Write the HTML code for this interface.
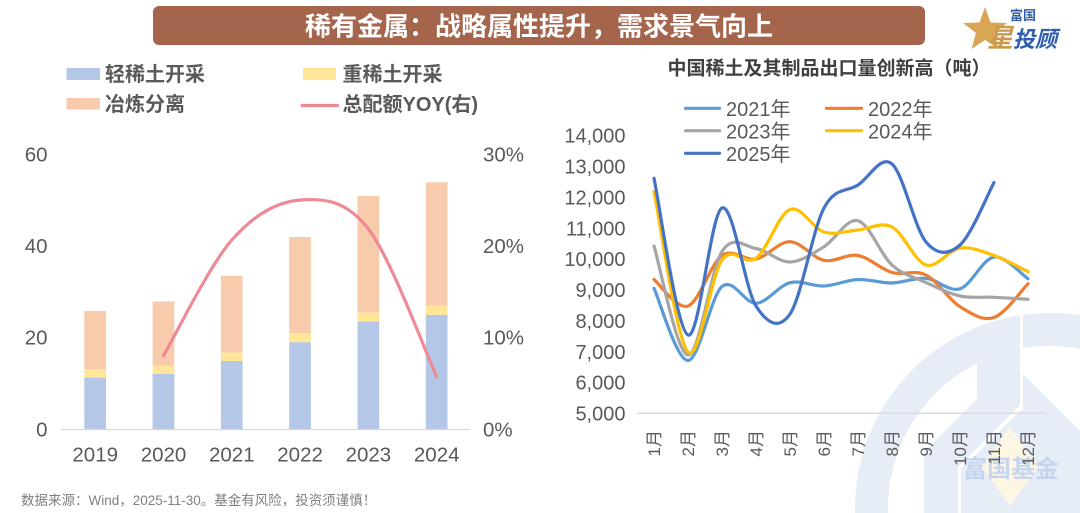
<!DOCTYPE html>
<html><head><meta charset="utf-8">
<style>
html,body{margin:0;padding:0;background:#fff;}
body{width:1080px;height:513px;overflow:hidden;}
svg{display:block;}
</style></head>
<body>
<svg width="1080" height="513" viewBox="0 0 1080 513" xmlns="http://www.w3.org/2000/svg" font-family="'Liberation Sans','Noto Sans CJK SC',sans-serif">
<!-- watermark -->
<g>
  <path d="M855.1,513 A195,195 0 0 1 1080,315.3 L1080,348.8 A162,162 0 0 0 888.1,513 Z" fill="#E6EDF7"/>
  <polygon points="977,335 1020,335 1020,405 958,467 958,513 924,513 924,452 977,399" fill="#E6EDF7"/>
  <polygon points="1023,374 1080,431 1080,513 961,513 961,469 1023,408" fill="#E6EDF7"/>
  <rect x="1020" y="300" width="3" height="110" fill="#FFFFFF"/>
  <polygon points="1010,427 1038,467 1010,506 982,467" fill="#FDF6E3"/>
  <text x="1011" y="477" text-anchor="middle" font-size="24" font-weight="bold" fill="#C6D5EE">富国基金</text>
</g>

<!-- title bar -->
<rect x="153" y="6" width="772" height="39" rx="6" fill="#A5644C"/>
<text x="539" y="35.5" text-anchor="middle" font-size="26" font-weight="bold" fill="#FFFFFF">稀有金属：战略属性提升，需求景气向上</text>

<!-- logo -->
<polygon points="985,7 990.5,22.5 1007,23 994,33 998.5,49 985,40 971.5,49 976,33 963,23 979.5,22.5" fill="#D8A654"/>
<text x="1010" y="20" font-size="13" font-weight="bold" fill="#2F5DA8">富国</text>
<text x="987" y="47" font-size="26" font-weight="bold" fill="#C99A4C" font-style="italic">星</text>
<text x="1013" y="47" font-size="22" font-weight="bold" fill="#2D5FB0" font-style="italic">投顾</text>

<!-- left legend -->
<rect x="66.5" y="68" width="33.5" height="12" fill="#B4C7E7"/>
<text x="105" y="81.2" font-size="20" font-weight="bold" fill="#595959">轻稀土开采</text>
<rect x="303" y="68" width="33" height="12" fill="#FFE699"/>
<text x="342.5" y="81.2" font-size="20" font-weight="bold" fill="#595959">重稀土开采</text>
<rect x="66.5" y="98" width="33.5" height="11.5" fill="#F8CBAD"/>
<text x="105" y="111" font-size="20" font-weight="bold" fill="#595959">冶炼分离</text>
<line x1="302" y1="105.5" x2="337.5" y2="105.5" stroke="#EE8A94" stroke-width="3.2" stroke-linecap="round"/>
<text x="342.5" y="111" font-size="20" font-weight="bold" fill="#595959">总配额YOY(右)</text>

<!-- left chart axes labels -->
<g font-size="20.5" fill="#595959" text-anchor="end">
  <text x="47.5" y="161.4">60</text>
  <text x="47.5" y="253">40</text>
  <text x="47.5" y="344.4">20</text>
  <text x="47.5" y="436.5">0</text>
</g>
<g font-size="20.5" fill="#595959" text-anchor="start">
  <text x="483" y="161.4">30%</text>
  <text x="483" y="253">20%</text>
  <text x="483" y="344.4">10%</text>
  <text x="483" y="436.5">0%</text>
</g>

<!-- bars -->
<g>
  <rect x="84.3" y="311" width="21.7" height="58" fill="#F8CBAD"/>
  <rect x="84.3" y="369" width="21.7" height="8.7" fill="#FFE699"/>
  <rect x="84.3" y="377.7" width="21.7" height="51.6" fill="#B4C7E7"/>

  <rect x="152.6" y="301.5" width="21.7" height="64.3" fill="#F8CBAD"/>
  <rect x="152.6" y="365.8" width="21.7" height="8.2" fill="#FFE699"/>
  <rect x="152.6" y="374" width="21.7" height="55.3" fill="#B4C7E7"/>

  <rect x="220.9" y="275.7" width="21.7" height="77" fill="#F8CBAD"/>
  <rect x="220.9" y="352.7" width="21.7" height="8.3" fill="#FFE699"/>
  <rect x="220.9" y="361" width="21.7" height="68.3" fill="#B4C7E7"/>

  <rect x="289.2" y="237" width="21.7" height="96.3" fill="#F8CBAD"/>
  <rect x="289.2" y="333.3" width="21.7" height="9" fill="#FFE699"/>
  <rect x="289.2" y="342.3" width="21.7" height="87" fill="#B4C7E7"/>

  <rect x="357.5" y="196" width="21.7" height="116.7" fill="#F8CBAD"/>
  <rect x="357.5" y="312.7" width="21.7" height="8.6" fill="#FFE699"/>
  <rect x="357.5" y="321.3" width="21.7" height="108" fill="#B4C7E7"/>

  <rect x="425.8" y="182.3" width="21.7" height="123.4" fill="#F8CBAD"/>
  <rect x="425.8" y="305.7" width="21.7" height="9.3" fill="#FFE699"/>
  <rect x="425.8" y="315" width="21.7" height="114.3" fill="#B4C7E7"/>
</g>
<line x1="61" y1="429.5" x2="470" y2="429.5" stroke="#D9D9D9" stroke-width="1.3"/>

<path d="M163.5,355.7 C174.88,336.42 209.03,265.95 231.8,240 C254.57,214.05 277.33,201.83 300.1,200 C322.87,198.17 345.63,199.55 368.4,229 C391.17,258.45 425.32,352.08 436.7,376.7" fill="none" stroke="#EE8A94" stroke-width="3.2" stroke-linecap="round" stroke-linejoin="round"/>

<g font-size="20.5" fill="#595959" text-anchor="middle">
  <text x="95.2" y="461.5">2019</text>
  <text x="163.5" y="461.5">2020</text>
  <text x="231.8" y="461.5">2021</text>
  <text x="300.1" y="461.5">2022</text>
  <text x="368.4" y="461.5">2023</text>
  <text x="436.7" y="461.5">2024</text>
</g>

<!-- footer -->
<text x="21" y="505" font-size="13.5" fill="#7F7F7F">数据来源：Wind，2025-11-30。基金有风险，投资须谨慎！</text>

<!-- right chart title -->
<text x="829" y="74.5" text-anchor="middle" font-size="19" font-weight="bold" fill="#404040">中国稀土及其制品出口量创新高（吨）</text>

<!-- right legend -->
<g font-size="20" fill="#595959">
  <line x1="685.5" y1="108.3" x2="719.5" y2="108.3" stroke="#5B9BD5" stroke-width="3.2" stroke-linecap="round"/>
  <text x="726" y="116">2021年</text>
  <line x1="826.5" y1="108.3" x2="861.5" y2="108.3" stroke="#ED7D31" stroke-width="3.2" stroke-linecap="round"/>
  <text x="868" y="116">2022年</text>
  <line x1="685.5" y1="130.7" x2="719.5" y2="130.7" stroke="#A5A5A5" stroke-width="3.2" stroke-linecap="round"/>
  <text x="726" y="138.5">2023年</text>
  <line x1="826.5" y1="130.7" x2="861.5" y2="130.7" stroke="#FFC000" stroke-width="3.2" stroke-linecap="round"/>
  <text x="868" y="138.5">2024年</text>
  <line x1="685.5" y1="153.3" x2="719.5" y2="153.3" stroke="#4472C4" stroke-width="3.2" stroke-linecap="round"/>
  <text x="726" y="161">2025年</text>
</g>

<!-- right y labels -->
<g font-size="20" fill="#595959" text-anchor="end">
  <text x="625.5" y="142.7">14,000</text>
  <text x="625.5" y="173.6">13,000</text>
  <text x="625.5" y="204.4">12,000</text>
  <text x="625.5" y="235.3">11,000</text>
  <text x="625.5" y="266.2">10,000</text>
  <text x="625.5" y="297">9,000</text>
  <text x="625.5" y="327.9">8,000</text>
  <text x="625.5" y="358.8">7,000</text>
  <text x="625.5" y="389.6">6,000</text>
  <text x="625.5" y="420.5">5,000</text>
</g>
<line x1="637" y1="413.3" x2="1046" y2="413.3" stroke="#D9D9D9" stroke-width="1.3"/>

<!-- month labels -->
<g font-size="17" fill="#595959" text-anchor="end">
  <text transform="translate(654,430) rotate(-90)" dy="0.35em">1月</text>
  <text transform="translate(688,430) rotate(-90)" dy="0.35em">2月</text>
  <text transform="translate(722,430) rotate(-90)" dy="0.35em">3月</text>
  <text transform="translate(756,430) rotate(-90)" dy="0.35em">4月</text>
  <text transform="translate(790,430) rotate(-90)" dy="0.35em">5月</text>
  <text transform="translate(824,430) rotate(-90)" dy="0.35em">6月</text>
  <text transform="translate(858,430) rotate(-90)" dy="0.35em">7月</text>
  <text transform="translate(892,430) rotate(-90)" dy="0.35em">8月</text>
  <text transform="translate(926,430) rotate(-90)" dy="0.35em">9月</text>
  <text transform="translate(960,430) rotate(-90)" dy="0.35em">10月</text>
  <text transform="translate(994,430) rotate(-90)" dy="0.35em">11月</text>
  <text transform="translate(1028,430) rotate(-90)" dy="0.35em">12月</text>
</g>

<!-- series -->
<g fill="none" stroke-width="3.2" stroke-linecap="round" stroke-linejoin="round">
  <path stroke="#5B9BD5" d="M654,288.3 C659.67,300.33 676.67,360.8 688,360.5 C699.33,360.2 710.67,296.03 722,286.5 C733.33,276.97 744.67,303.93 756,303.3 C767.33,302.67 778.67,285.58 790,282.7 C801.33,279.82 812.67,286.53 824,286 C835.33,285.47 846.67,280 858,279.5 C869.33,279 880.67,283.2 892,283 C903.33,282.8 914.67,277.33 926,278.3 C937.33,279.27 948.67,292.35 960,288.8 C971.33,285.25 982.67,258.67 994,257 C1005.33,255.33 1022.33,275.17 1028,278.8"/>
  <path stroke="#ED7D31" d="M654,279.5 C659.67,283.92 676.67,310 688,306 C699.33,302 710.67,263.33 722,255.5 C733.33,247.67 744.67,261.3 756,259 C767.33,256.7 778.67,241.48 790,241.7 C801.33,241.92 812.67,258 824,260.3 C835.33,262.6 846.67,253.47 858,255.5 C869.33,257.53 880.67,269.25 892,272.5 C903.33,275.75 914.67,269.3 926,275 C937.33,280.7 948.67,299.62 960,306.7 C971.33,313.78 982.67,321.33 994,317.5 C1005.33,313.67 1022.33,289.33 1028,283.7"/>
  <path stroke="#A5A5A5" d="M654,246 C659.67,264.17 676.67,354.08 688,355 C699.33,355.92 710.67,269.25 722,251.5 C733.33,233.75 744.67,246.75 756,248.5 C767.33,250.25 778.67,262.3 790,262 C801.33,261.7 812.67,253.58 824,246.7 C835.33,239.82 846.67,217.65 858,220.7 C869.33,223.75 880.67,254.7 892,265 C903.33,275.3 914.67,277.33 926,282.5 C937.33,287.67 948.67,293.53 960,296 C971.33,298.47 982.67,296.75 994,297.3 C1005.33,297.85 1022.33,298.97 1028,299.3"/>
  <path stroke="#FFC000" d="M654,191.7 C659.67,218.42 676.67,340.62 688,352 C699.33,363.38 710.67,275.62 722,260 C733.33,244.38 744.67,266.72 756,258.3 C767.33,249.88 778.67,213.88 790,209.5 C801.33,205.12 812.67,228.58 824,232 C835.33,235.42 846.67,230.83 858,230 C869.33,229.17 880.67,221.17 892,227 C903.33,232.83 914.67,261.5 926,265 C937.33,268.5 948.67,249.58 960,248 C971.33,246.42 982.67,251.55 994,255.5 C1005.33,259.45 1022.33,269 1028,271.7"/>
  <path stroke="#4472C4" d="M654,178.3 C659.67,204.42 676.67,330.05 688,335 C699.33,339.95 710.67,212.83 722,208 C733.33,203.17 744.67,288.33 756,306 C767.33,323.67 778.67,330.33 790,314 C801.33,297.67 812.67,229.5 824,208 C835.33,186.5 846.67,192.33 858,185 C869.33,177.67 880.67,154.5 892,164 C903.33,173.5 914.67,228.5 926,242 C937.33,255.5 948.67,254.92 960,245 C971.33,235.08 988.33,192.92 994,182.5"/>
</g>
</svg>
</body></html>
